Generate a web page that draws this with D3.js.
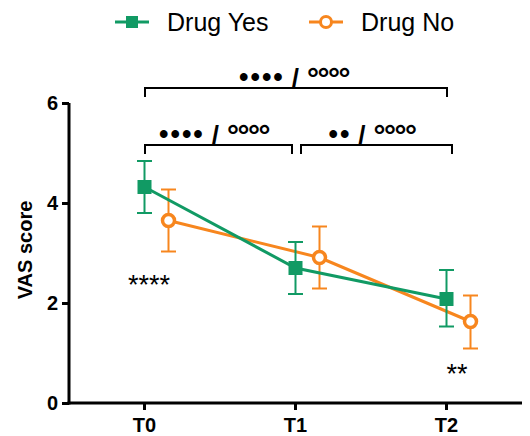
<!DOCTYPE html>
<html>
<head>
<meta charset="utf-8">
<script src="https://cdn.jsdelivr.net/npm/d3@7"></script>
<style>
  body { margin: 0; background: #fff; }
  text { font-family: "Liberation Sans", Arial, sans-serif; }
</style>
</head>
<body>
<div id="chart"></div>
<script>
const categories = ["T0", "T1", "T2"];
const yesMean = [4.32, 2.70, 2.08];
const yesLow = [3.80, 2.18, 1.53];
const yesHigh = [4.84, 3.22, 2.66];
const noMean = [3.65, 2.91, 1.63];
const noLow = [3.03, 2.29, 1.09];
const noHigh = [4.27, 3.53, 2.15];
const yTicks = [0, 2, 4, 6];

const green = "#119a64";
const orange = "#f7861e";

const width = 530, height = 436;
const svg = d3.select("#chart").append("svg").attr("width", width).attr("height", height);

const xScale = d3.scaleBand().domain(categories).range([69, 522]);
const yScale = d3.scaleLinear().domain([0, 6]).range([403, 103]);
const cx = (d) => xScale(d) + xScale.bandwidth() / 2;
const offset = 24;

// axes
const yAxis = svg.append("g").attr("transform", "translate(69,0)")
    .call(d3.axisLeft(yScale).tickValues(yTicks).tickFormat(d3.format("d")).tickSize(7).tickPadding(4).tickSizeOuter(0));
const xAxis = svg.append("g").attr("transform", "translate(0,403)")
    .call(d3.axisBottom(xScale).tickSize(7).tickPadding(8).tickSizeOuter(0));
[yAxis, xAxis].forEach(function(a){
    a.attr("font-size", 20).attr("font-family", "Liberation Sans, Arial, sans-serif");
    a.select(".domain").attr("stroke", "#000").attr("stroke-width", 3);
    a.selectAll(".tick line").attr("stroke", "#000").attr("stroke-width", 3);
    a.selectAll(".tick text").attr("fill", "#000").attr("font-weight", "bold");
});
yAxis.select(".domain").attr("d", "M0,103V404.5");
xAxis.select(".domain").attr("d", "M67.5,0H522");

svg.append("text")
    .attr("transform", "translate(32,250) rotate(-90)")
    .attr("text-anchor", "middle")
    .attr("font-size", 20).attr("font-weight", "bold")
    .text("VAS score");

function drawSeries(means, lows, highs, color, dx, marker){
    const g = svg.append("g");
    const line = d3.line().x((d, i) => cx(categories[i]) + dx).y((d) => yScale(d));
    g.append("path").datum(means).attr("d", line)
        .attr("fill", "none").attr("stroke", color).attr("stroke-width", 3);
    categories.forEach(function(c, i){
        const x = cx(c) + dx;
        g.append("line").attr("x1", x).attr("x2", x)
            .attr("y1", yScale(lows[i])).attr("y2", yScale(highs[i]))
            .attr("stroke", color).attr("stroke-width", 2);
        [lows[i], highs[i]].forEach(function(v){
            g.append("line").attr("x1", x - 7.5).attr("x2", x + 7.5)
                .attr("y1", yScale(v)).attr("y2", yScale(v))
                .attr("stroke", color).attr("stroke-width", 2);
        });
        if (marker === "square") {
            g.append("rect").attr("x", x - 7).attr("y", yScale(means[i]) - 7)
                .attr("width", 14).attr("height", 14).attr("fill", color);
        } else {
            g.append("circle").attr("cx", x).attr("cy", yScale(means[i])).attr("r", 6)
                .attr("fill", "#fff").attr("stroke", color).attr("stroke-width", 3.5);
        }
    });
}
drawSeries(noMean, noLow, noHigh, orange, offset, "circle");
drawSeries(yesMean, yesLow, yesHigh, green, 0, "square");

// significance brackets: dots / rings, each piece placed one after the other
function bracket(x1, x2, y, dots, rings, labelX){
    svg.append("path")
        .attr("d", `M${x1},${y + 9}V${y}H${x2}V${y + 9}`)
        .attr("fill", "none").attr("stroke", "#000").attr("stroke-width", 2);
    const g = svg.append("g");
    const a = g.append("text").attr("x", 0).attr("y", y - 2).attr("font-size", 27)
        .attr("letter-spacing", 2).attr("font-weight", "bold").text(dots);
    const wa = a.node().getComputedTextLength();
    const b = g.append("text").attr("x", wa + 7).attr("y", y - 1).attr("font-size", 26).attr("font-weight", "bold").text("/");
    const wb = b.node().getComputedTextLength();
    const c = g.append("text").attr("x", wa + wb + 15).attr("y", y + 1).attr("font-size", 30)
        .attr("letter-spacing", -1.5).attr("font-weight", "bold").text(rings);
    const total = wa + wb + 15 + c.node().getComputedTextLength();
    g.attr("transform", `translate(${labelX - total / 2},0)`);
}
bracket(145, 447, 88, "••••", "°°°°", 294);
bracket(145, 292, 145, "••••", "°°°°", 214);
bracket(301, 452, 145, "••", "°°°°", 372);

svg.append("text").attr("x", 149).attr("y", 294).attr("text-anchor", "middle")
    .attr("font-size", 27).text("****");
svg.append("text").attr("x", 457).attr("y", 383).attr("text-anchor", "middle")
    .attr("font-size", 27).text("**");

// legend
const legend = [
    {label: "Drug Yes", color: green, marker: "square", x: 115},
    {label: "Drug No", color: orange, marker: "circle", x: 309}
];
legend.forEach(function(l){
    const g = svg.append("g").attr("transform", `translate(${l.x},22)`);
    g.append("line").attr("x1", 0).attr("x2", 34).attr("stroke", l.color).attr("stroke-width", 3);
    if (l.marker === "square") {
        g.append("rect").attr("x", 11).attr("y", -6).attr("width", 12).attr("height", 12).attr("fill", l.color);
    } else {
        g.append("circle").attr("cx", 17).attr("r", 5.5).attr("fill", "#fff")
            .attr("stroke", l.color).attr("stroke-width", 3);
    }
    g.append("text").attr("x", 52).attr("y", 9).attr("font-size", 25).text(l.label);
});
</script>
</body>
</html>
